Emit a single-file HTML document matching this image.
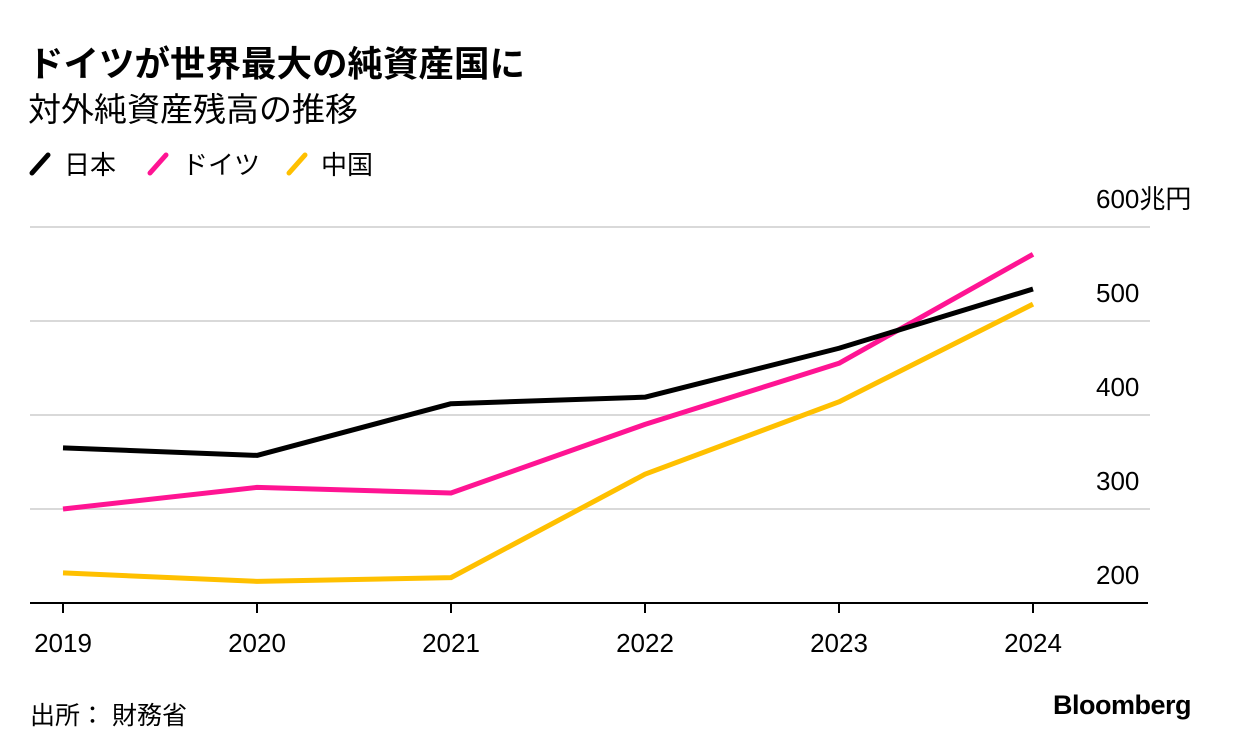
<!DOCTYPE html>
<html><head><meta charset="utf-8">
<style>
body{margin:0;background:#fff;width:1233px;height:750px;overflow:hidden;font-family:"Liberation Sans","Noto Sans CJK JP",sans-serif;color:#000}
.t{position:absolute;white-space:nowrap}
</style></head><body>
<div class="t" style="left:28px;top:36px;font-size:35.5px;font-weight:bold">ドイツが世界最大の純資産国に</div>
<div class="t" style="left:28px;top:83px;font-size:33px">対外純資産残高の推移</div>
<div class="t" style="left:30px;top:696px;font-size:25px">出所： 財務省</div>
<div class="t" style="left:1053px;top:690px;font-size:27px;font-weight:bold;letter-spacing:-0.5px">Bloomberg</div>
<svg id="c" width="1233" height="750" style="position:absolute;left:0;top:0"></svg>
<script>
const years=["2019","2020","2021","2022","2023","2024"];
const japan=[365,357,412,419,471,534];
const germany=[300,323,317,390,455,571];
const china=[232,223,227,337,414,518];
const yTicks=[200,300,400,500,600];
const seriesNames=["日本","ドイツ","中国"];
const colors=["#000000","#ff1493","#ffc000"];
const NS="http://www.w3.org/2000/svg";
const svg=document.getElementById('c');
const x=i=>63+i*194;
const y=v=>603-(v-200)*0.94;
function el(t,a){const e=document.createElementNS(NS,t);for(const k in a)e.setAttribute(k,a[k]);svg.appendChild(e);return e;}
yTicks.forEach(v=>{
  if(v>200){const g=el('line',{x1:30,x2:1150,y1:y(v),y2:y(v),stroke:'#d9d9d9','stroke-width':2});
  
  }
  const t=el('text',{x:1096,y:y(v)-19,'font-size':26,'font-family':'Liberation Sans, Noto Sans CJK JP, sans-serif'});
  t.textContent=v===600?'600兆円':String(v);
  
  
});
const b=el('line',{x1:30,x2:1148,y1:603,y2:603,stroke:'#000','stroke-width':2});


years.forEach((yr,i)=>{
  const tk=el('line',{x1:x(i),x2:x(i),y1:603,y2:613,stroke:'#000','stroke-width':2});
  
  
  const t=el('text',{x:x(i),y:652,'font-size':26,'text-anchor':'middle','font-family':'Liberation Sans, sans-serif'});
  t.textContent=yr;
  
  
});
[china,germany,japan].forEach((s,k)=>{
  const idx=2-k;
  const p=el('polyline',{points:s.map((v,i)=>x(i)+','+y(v)).join(' '),fill:'none',stroke:colors[idx],'stroke-width':5,'stroke-linejoin':'round'});
  
  
});
const lx=[30,148,287];
seriesNames.forEach((n,i)=>{
  const m=el('line',{x1:lx[i]+2,y1:173,x2:lx[i]+18,y2:155,stroke:colors[i],'stroke-width':5,'stroke-linecap':'round'});
  
  
  const t=el('text',{x:lx[i]+34,y:174,'font-size':26,'font-family':'Liberation Sans, Noto Sans CJK JP, sans-serif'});
  t.textContent=n;
  
  
});
</script>
</body></html>
